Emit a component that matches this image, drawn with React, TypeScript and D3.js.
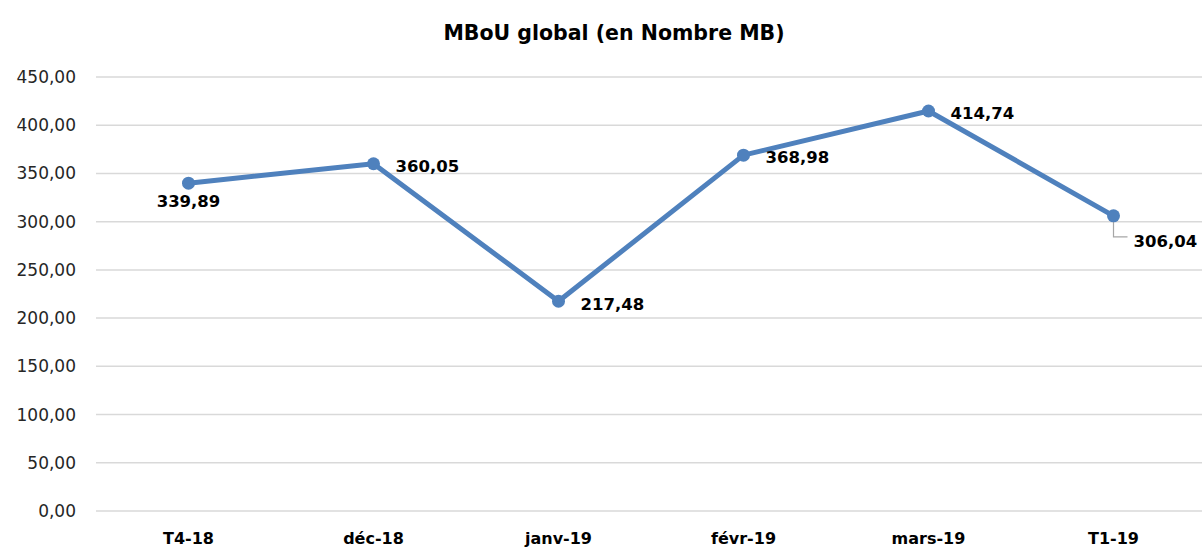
import React from 'react';
import * as d3 from 'd3';

const categories = ['T4-18', 'déc-18', 'janv-19', 'févr-19', 'mars-19', 'T1-19'];
const values = [339.89, 360.05, 217.48, 368.98, 414.74, 306.04];
const yTicks = [0, 50, 100, 150, 200, 250, 300, 350, 400, 450];
const title = 'MBoU global (en Nombre MB)';

// label placement per point: [dx, dy, anchor]
const labelPos: [number, number, string][] = [
  [0, 18, 'middle'],
  [22, 2, 'start'],
  [22, 3, 'start'],
  [22, 2, 'start'],
  [22, 2, 'start'],
  [20, 25, 'start'],
];

const W = 1202;
const H = 549;
const margin = { top: 77, left: 96, right: -4, bottom: 38 };
const font = "'DejaVu Sans', sans-serif";

const fmt = (v: number) => d3.format('.2f')(v).replace('.', ',');

const App: React.FC = () => {
  const x = d3.scaleBand<string>()
    .domain(categories)
    .range([margin.left, W - margin.right]);
  const y = d3.scaleLinear()
    .domain([0, 450])
    .range([H - margin.bottom, margin.top]);

  const cx = (c: string) => (x(c) ?? 0) + x.bandwidth() / 2;

  const line = d3.line<number>()
    .x((_, i) => cx(categories[i]))
    .y(d => y(d));

  return (
    <div style={{ position: 'absolute', left: 0, top: 0 }}>
      <svg width={W} height={H} style={{ display: 'block', background: '#fff' }}>
        <text x={614} y={40} textAnchor="middle" fontFamily={font} fontWeight="bold"
          fontSize={20.5} fill="#000">{title}</text>

        {yTicks.map(t => (
          <g key={t}>
            <line x1={margin.left} x2={W} y1={y(t)} y2={y(t)} stroke="#d9d9d9" strokeWidth={1.5} />
            <text x={76} y={y(t)} dy="0.35em" textAnchor="end" fontFamily={font}
              fontSize={17} fill="#262626">{fmt(t)}</text>
          </g>
        ))}

        {categories.map(c => (
          <text key={c} x={cx(c)} y={544} textAnchor="middle" fontFamily={font}
            fontWeight="bold" fontSize={16} fill="#000">{c}</text>
        ))}

        <path d={line(values) ?? ''} fill="none" stroke="#4F81BD" strokeWidth={5}
          strokeLinejoin="round" />

        {/* leader line for last label */}
        <path
          d={`M${cx(categories[5])},${y(values[5]) + 4} V${y(values[5]) + 21} H${cx(categories[5]) + 14}`}
          fill="none" stroke="#a6a6a6" strokeWidth={1.2} />

        {values.map((v, i) => (
          <circle key={i} cx={cx(categories[i])} cy={y(v)} r={6.5} fill="#4F81BD" />
        ))}

        {values.map((v, i) => {
          const [dx, dy, anchor] = labelPos[i];
          return (
            <text key={i} x={cx(categories[i]) + dx} y={y(v) + dy} dy="0.35em"
              textAnchor={anchor as any} fontFamily={font} fontWeight="bold"
              fontSize={16.5} fill="#000">{fmt(v)}</text>
          );
        })}
      </svg>
    </div>
  );
};

export default App;
